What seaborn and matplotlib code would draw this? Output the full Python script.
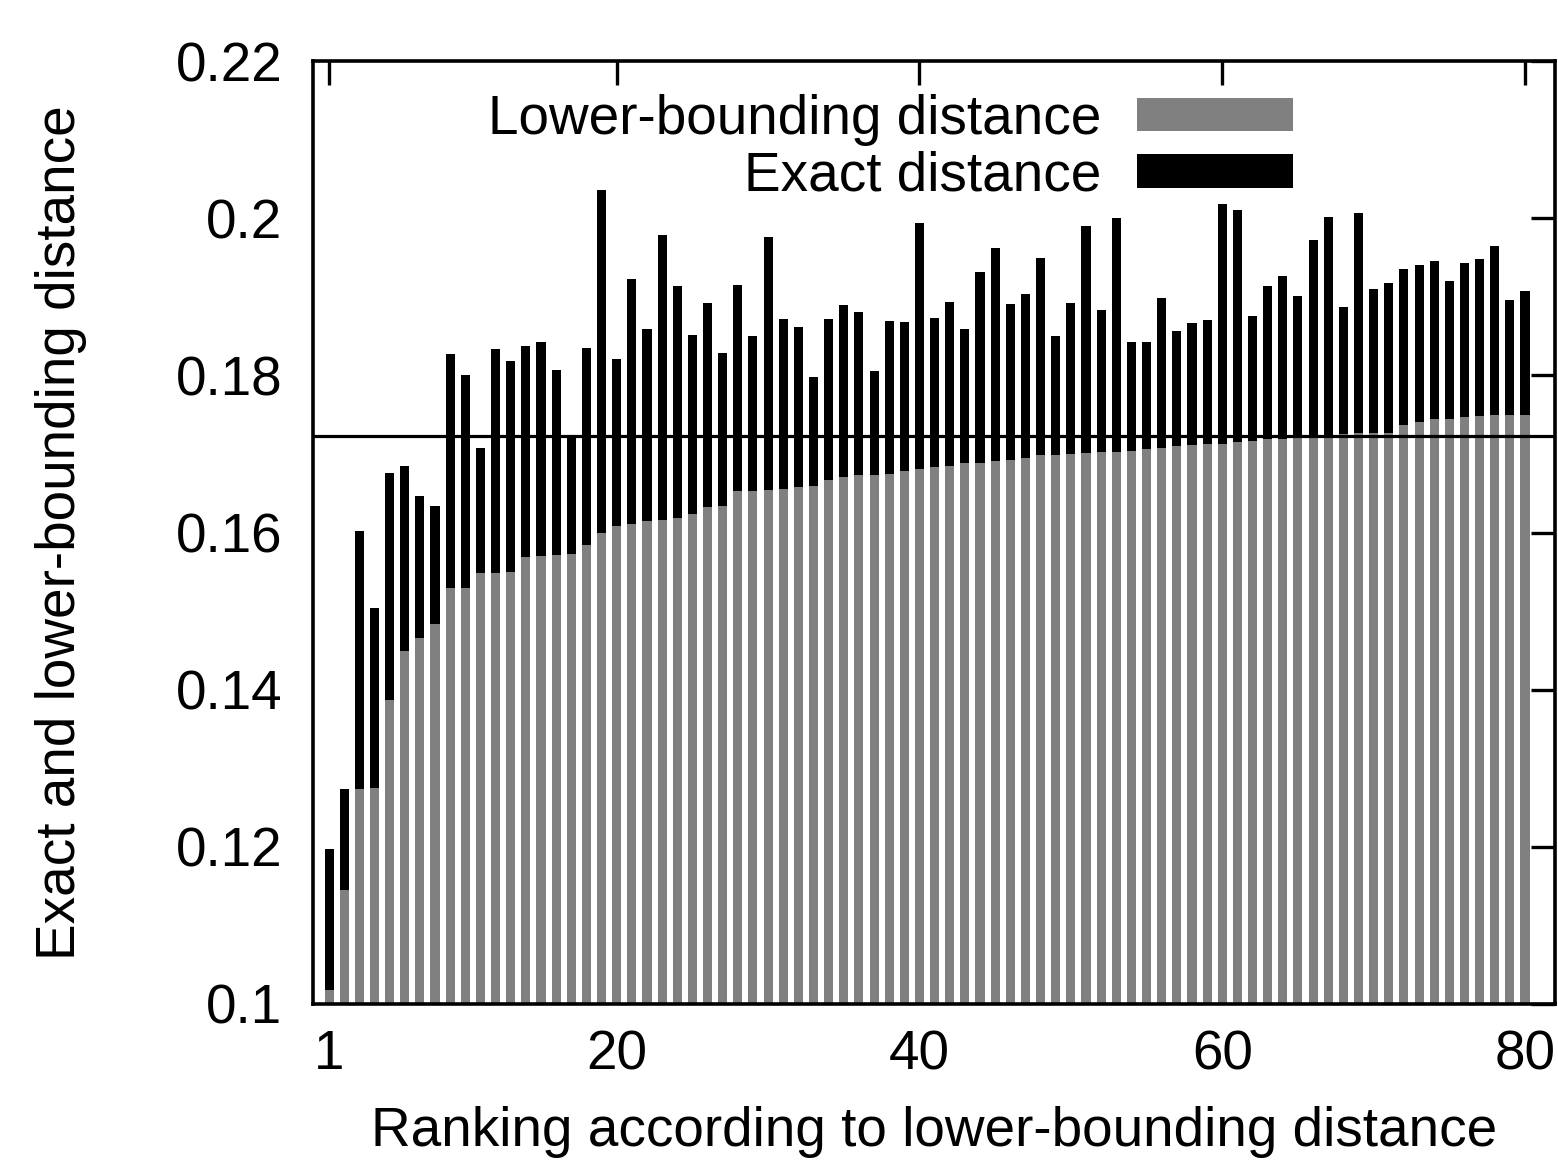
import numpy as np
import pandas as pd
import matplotlib
matplotlib.use("Agg")
import matplotlib.pyplot as plt
from matplotlib.patches import Patch
from matplotlib.ticker import FuncFormatter
import seaborn as sns

ranks = list(range(1, 81))
lower_bound = [
    0.1018, 0.1145, 0.1274, 0.1275, 0.1387, 0.1449, 0.1466, 0.1484, 0.1529, 0.1530,
    0.1548, 0.1549, 0.1550, 0.1569, 0.1570, 0.1572, 0.1573, 0.1584, 0.1599, 0.1608,
    0.1611, 0.1615, 0.1616, 0.1619, 0.1624, 0.1633, 0.1634, 0.1653, 0.1653, 0.1654,
    0.1655, 0.1658, 0.1659, 0.1667, 0.1670, 0.1673, 0.1673, 0.1675, 0.1678, 0.1681,
    0.1683, 0.1685, 0.1689, 0.1689, 0.1691, 0.1692, 0.1695, 0.1698, 0.1698, 0.1700,
    0.1701, 0.1703, 0.1703, 0.1704, 0.1706, 0.1707, 0.1710, 0.1711, 0.1713, 0.1713,
    0.1715, 0.1717, 0.1719, 0.1719, 0.1721, 0.1722, 0.1723, 0.1725, 0.1726, 0.1726,
    0.1727, 0.1737, 0.1740, 0.1744, 0.1745, 0.1747, 0.1748, 0.1749, 0.1750, 0.1750,
]
exact = [
    0.1197, 0.1273, 0.1602, 0.1504, 0.1676, 0.1685, 0.1647, 0.1634, 0.1827, 0.1801,
    0.1708, 0.1834, 0.1818, 0.1837, 0.1842, 0.1807, 0.1723, 0.1835, 0.2036, 0.1821,
    0.1923, 0.1859, 0.1979, 0.1914, 0.1851, 0.1892, 0.1828, 0.1915, 0.1850, 0.1976,
    0.1872, 0.1862, 0.1798, 0.1872, 0.1890, 0.1881, 0.1806, 0.1869, 0.1868, 0.1994,
    0.1873, 0.1893, 0.1859, 0.1932, 0.1962, 0.1891, 0.1904, 0.1949, 0.1850, 0.1892,
    0.1990, 0.1883, 0.2000, 0.1842, 0.1843, 0.1898, 0.1856, 0.1867, 0.1870, 0.2018,
    0.2011, 0.1876, 0.1914, 0.1926, 0.1901, 0.1972, 0.2002, 0.1887, 0.2006, 0.1910,
    0.1918, 0.1935, 0.1940, 0.1945, 0.1920, 0.1943, 0.1948, 0.1965, 0.1896, 0.1907,
]
threshold = 0.1723
x_ticks = [1, 20, 40, 60, 80]
y_ticks = [0.10, 0.12, 0.14, 0.16, 0.18, 0.20, 0.22]
label_lower = "Lower-bounding distance"
label_exact = "Exact distance"
xlabel = "Ranking according to lower-bounding distance"
ylabel = "Exact and lower-bounding distance"

sns.set_theme(style="white")
plt.rcParams["font.family"] = ["Liberation Sans", "DejaVu Sans"]
plt.rcParams["text.color"] = "black"
plt.rcParams["axes.labelcolor"] = "black"
plt.rcParams["xtick.color"] = "black"
plt.rcParams["ytick.color"] = "black"
FS = 39.5

df = pd.DataFrame({"rank": ranks, "exact": exact, "lower": lower_bound})

fig = plt.figure(figsize=(15.58, 11.64), dpi=100)
ax = fig.add_axes([313 / 1558, 1 - 1004 / 1164, (1555 - 313) / 1558, (1004 - 61) / 1164])

sns.barplot(data=df, x="rank", y="exact", native_scale=True, color="black",
            saturation=1, width=0.6, errorbar=None, ax=ax, linewidth=0)
sns.barplot(data=df, x="rank", y="lower", native_scale=True, color="#808080",
            saturation=1, width=0.6, errorbar=None, ax=ax, linewidth=0)
ax.axhline(threshold, color="black", lw=2.3, zorder=5)

ax.set_xlim(-0.06, 81.98)
ax.set_ylim(0.1, 0.22)
ax.set_xticks(x_ticks)
ax.set_yticks(y_ticks)
ax.yaxis.set_major_formatter(FuncFormatter(lambda v, p: "%g" % round(v, 2)))
ax.tick_params(axis="both", direction="in", length=17.5, width=2.4, colors="black",
               labelsize=FS, top=True, right=True)
ax.tick_params(axis="x", pad=18)
ax.tick_params(axis="y", pad=22)
for s in ax.spines.values():
    s.set_visible(True)
    s.set_linewidth(2.6)
    s.set_color("black")

ax.set_xlabel(xlabel, fontsize=FS, labelpad=18)
ax.set_ylabel(ylabel, fontsize=FS, labelpad=64)

handles = [Patch(facecolor="#808080", edgecolor="none", label=label_lower),
           Patch(facecolor="black", edgecolor="none", label=label_exact)]
ax.legend(handles=handles, loc="upper right", bbox_to_anchor=(0.789, 0.965),
          frameon=False, markerfirst=False, fontsize=FS, handlelength=2.85,
          handleheight=0.55, handletextpad=0.65, labelspacing=0.08,
          borderpad=0, borderaxespad=0)

fig.savefig("out.png", dpi=100)
